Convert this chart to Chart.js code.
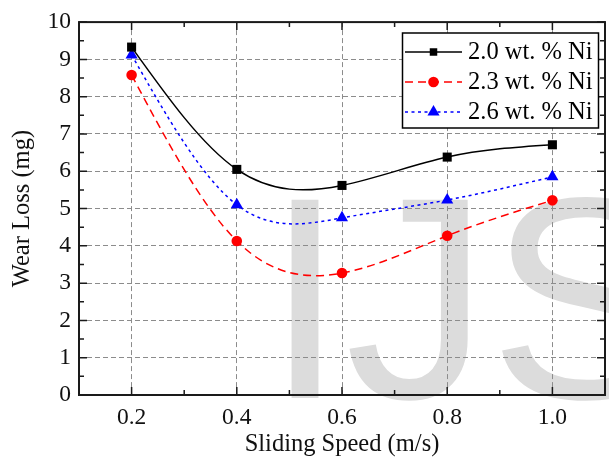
<!DOCTYPE html>
<html>
<head>
<meta charset="utf-8">
<script src="https://cdn.jsdelivr.net/npm/chart.js@4.4.1/dist/chart.umd.min.js"></script>
<style>
  html, body { margin: 0; padding: 0; overflow: hidden; background: #fff; }
  #wrap { width: 612px; height: 459px; position: relative; }
</style>
</head>
<body>
<div id="wrap"><canvas id="c" width="612" height="459"></canvas></div>
<script>
// Wear loss versus sliding speed for three nickel contents
const speeds = [0.2, 0.4, 0.6, 0.8, 1.0];
const lossNi20 = [9.33, 6.05, 5.62, 6.38, 6.71];
const lossNi23 = [8.58, 4.13, 3.27, 4.27, 5.22];
const lossNi26 = [9.12, 5.10, 4.75, 5.23, 5.85];
const seriesLabels = ['2.0 wt. % Ni', '2.3 wt. % Ni', '2.6 wt. % Ni'];
const xTickValues = [0.2, 0.4, 0.6, 0.8, 1.0];
const yTickValues = [0, 1, 2, 3, 4, 5, 6, 7, 8, 9, 10];
const xMinorValues = [0.1, 0.3, 0.5, 0.7, 0.9, 1.1];
const yMinorValues = [0.5, 1.5, 2.5, 3.5, 4.5, 5.5, 6.5, 7.5, 8.5, 9.5];
const xTitle = 'Sliding Speed (m/s)';
const yTitle = 'Wear Loss (mg)';
const watermarkText = 'IJS';

const SERIF = '"Liberation Serif", "Times New Roman", serif';

const toXY = (vals) => speeds.map((s, i) => ({ x: s, y: vals[i] }));

const styles = [
  { color: '#000000', dash: [], pointStyle: 'rect', radius: 6.4 },
  { color: '#ff0000', dash: [8, 5], pointStyle: 'circle', radius: 5.3 },
  { color: '#0000ff', dash: [3, 3.5], pointStyle: 'triangle', radius: 7 }
];
const seriesValues = [lossNi20, lossNi23, lossNi26];

const datasets = seriesValues.map((vals, i) => ({
  label: seriesLabels[i],
  data: toXY(vals),
  borderColor: styles[i].color,
  backgroundColor: styles[i].color,
  borderWidth: 1.5,
  borderDash: styles[i].dash,
  pointStyle: styles[i].pointStyle,
  pointRadius: styles[i].radius,
  pointBorderWidth: 0,
  pointBackgroundColor: styles[i].color,
  tension: 0.4,
  fill: false
}));

// Replace the default Bezier control points of each line with those of a
// natural cubic spline through the same points (linear scales, so pixel space works)
const naturalSplinePlugin = {
  id: 'naturalSpline',
  beforeDatasetsDraw(chart) {
    chart.data.datasets.forEach((ds, di) => {
      const meta = chart.getDatasetMeta(di);
      const pts = meta.data;
      const n = pts.length;
      if (n < 3 || !meta.dataset) return;
      const xs = pts.map(p => p.x), ys = pts.map(p => p.y);
      const h = [];
      for (let i = 0; i < n - 1; i++) h.push(xs[i + 1] - xs[i]);
      // tridiagonal solve for second derivatives, natural ends
      const M = new Array(n).fill(0);
      const a = [], b = [], c = [], r = [];
      for (let i = 1; i < n - 1; i++) {
        a.push(h[i - 1]);
        b.push(2 * (h[i - 1] + h[i]));
        c.push(h[i]);
        r.push(6 * ((ys[i + 1] - ys[i]) / h[i] - (ys[i] - ys[i - 1]) / h[i - 1]));
      }
      const m = b.length;
      for (let i = 1; i < m; i++) {
        const w = a[i] / b[i - 1];
        b[i] -= w * c[i - 1];
        r[i] -= w * r[i - 1];
      }
      const sol = new Array(m);
      sol[m - 1] = r[m - 1] / b[m - 1];
      for (let i = m - 2; i >= 0; i--) sol[i] = (r[i] - c[i] * sol[i + 1]) / b[i];
      for (let i = 0; i < m; i++) M[i + 1] = sol[i];
      const d = new Array(n);
      for (let i = 0; i < n - 1; i++) {
        d[i] = (ys[i + 1] - ys[i]) / h[i] - h[i] * (2 * M[i] + M[i + 1]) / 6;
      }
      d[n - 1] = (ys[n - 1] - ys[n - 2]) / h[n - 2] + h[n - 2] * (M[n - 2] + 2 * M[n - 1]) / 6;
      for (let i = 0; i < n; i++) {
        const hb = i > 0 ? h[i - 1] : 0;
        const hf = i < n - 1 ? h[i] : 0;
        pts[i].cp1x = xs[i] - hb / 3;
        pts[i].cp1y = ys[i] - d[i] * hb / 3;
        pts[i].cp2x = xs[i] + hf / 3;
        pts[i].cp2y = ys[i] + d[i] * hf / 3;
      }
      meta.dataset._pointsUpdated = true;
      delete meta.dataset._path;
    });
  }
};

// Large grey watermark behind the plot
const watermarkPlugin = {
  id: 'watermark',
  beforeDraw(chart) {
    const ctx = chart.ctx;
    ctx.save();
    ctx.font = '288px "Liberation Sans", Arial, sans-serif';
    ctx.fillStyle = '#dcdcdc';
    ctx.textBaseline = 'alphabetic';
    ctx.textAlign = 'left';
    ctx.fillText(watermarkText, 265, 398);
    ctx.restore();
  }
};

// Box frame with inward ticks on all four sides
const framePlugin = {
  id: 'frame',
  beforeDatasetsDraw(chart) {
    const { ctx, chartArea: a, scales: { x, y } } = chart;
    ctx.save();
    ctx.strokeStyle = '#1a1a1a';
    ctx.lineWidth = 1.5;
    ctx.beginPath();
    const tickX = (vals, len) => {
      vals.forEach(v => {
        const px = x.getPixelForValue(v);
        ctx.moveTo(px, a.bottom); ctx.lineTo(px, a.bottom - len);
        ctx.moveTo(px, a.top); ctx.lineTo(px, a.top + len);
      });
    };
    const tickY = (vals, len) => {
      vals.forEach(v => {
        const py = y.getPixelForValue(v);
        ctx.moveTo(a.left, py); ctx.lineTo(a.left + len, py);
        ctx.moveTo(a.right, py); ctx.lineTo(a.right - len, py);
      });
    };
    tickX(xTickValues, 8);
    tickX(xMinorValues, 5);
    tickY(yTickValues, 8);
    tickY(yMinorValues, 5);
    ctx.stroke();
    ctx.lineWidth = 2;
    ctx.strokeRect(a.left, a.top, a.right - a.left, a.bottom - a.top);
    ctx.restore();
  }
};

// Boxed legend inside the upper right of the plot
const legendPlugin = {
  id: 'boxLegend',
  afterDraw(chart) {
    const ctx = chart.ctx;
    const box = { left: 402.5, top: 33, width: 196, height: 95 };
    ctx.save();
    ctx.fillStyle = '#ffffff';
    ctx.fillRect(box.left, box.top, box.width, box.height);
    ctx.strokeStyle = '#000000';
    ctx.lineWidth = 1.5;
    ctx.strokeRect(box.left, box.top, box.width, box.height);
    chart.data.datasets.forEach((ds, i) => {
      const yy = box.top + 19 + i * 30;
      ctx.strokeStyle = ds.borderColor;
      ctx.lineWidth = 1.5;
      ctx.setLineDash(ds.borderDash || []);
      ctx.beginPath();
      ctx.moveTo(405, yy);
      ctx.lineTo(462, yy);
      ctx.stroke();
      ctx.setLineDash([]);
      ctx.fillStyle = ds.pointBackgroundColor;
      Chart.helpers.drawPoint(ctx, {
        pointStyle: ds.pointStyle,
        radius: i === 0 ? 5.3 : ds.pointRadius,
        rotation: 0,
        borderWidth: 0
      }, 433.5, yy);
      ctx.fillStyle = '#000000';
      ctx.font = '24.5px ' + SERIF;
      ctx.textAlign = 'left';
      ctx.textBaseline = 'middle';
      ctx.fillText(ds.label, 468, yy + 1);
    });
    ctx.restore();
  }
};

new Chart(document.getElementById('c'), {
  type: 'line',
  data: { datasets },
  options: {
    responsive: false,
    animation: false,
    devicePixelRatio: 1,
    layout: { padding: { top: 20, right: 2, left: 0, bottom: 0 } },
    plugins: { legend: { display: false }, tooltip: { enabled: false } },
    scales: {
      x: {
        type: 'linear',
        min: 0.1,
        max: 1.1,
        afterBuildTicks: (s) => { s.ticks = xTickValues.map(v => ({ value: v })); },
        afterFit: (s) => { s.height = 64; },
        border: { display: false, dash: [5, 3] },
        grid: { drawTicks: false, color: '#8c8c8c', lineWidth: 1 },
        ticks: {
          padding: 9,
          color: '#111',
          font: { family: SERIF, size: 23.5 },
          callback: (v) => Number(v).toFixed(1)
        },
        title: {
          display: true,
          text: xTitle,
          color: '#111',
          font: { family: SERIF, size: 24.5 },
          padding: { top: 0, bottom: 0 }
        }
      },
      y: {
        type: 'linear',
        min: 0,
        max: 10,
        afterBuildTicks: (s) => { s.ticks = yTickValues.map(v => ({ value: v })); },
        afterFit: (s) => { s.width = 79; },
        border: { display: false, dash: [5, 3] },
        grid: {
          drawTicks: false,
          lineWidth: 1,
          color: (c) => (c.tick && (c.tick.value === 0 || c.tick.value === 10)) ? 'rgba(0,0,0,0)' : '#8c8c8c'
        },
        ticks: {
          padding: 8,
          color: '#111',
          font: { family: SERIF, size: 23.5 },
          callback: (v) => String(v)
        },
        title: {
          display: true,
          text: yTitle,
          color: '#111',
          font: { family: SERIF, size: 24.5 },
          padding: { top: 8, bottom: 0 }
        }
      }
    }
  },
  plugins: [watermarkPlugin, framePlugin, naturalSplinePlugin, legendPlugin]
});
</script>
</body>
</html>
